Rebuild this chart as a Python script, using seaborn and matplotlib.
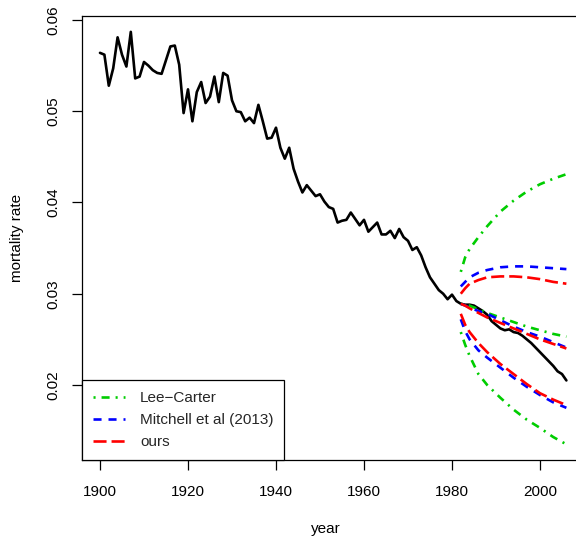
import matplotlib
matplotlib.use("Agg")
import matplotlib.pyplot as plt
import numpy as np
import pandas as pd
import seaborn as sns

# Observed mortality rate, 1900-2006
years = list(range(1900, 2007))
rates = [
    0.0564, 0.0562, 0.0528, 0.0547, 0.0581, 0.0562, 0.0549, 0.0587, 0.0536, 0.0538,
    0.0554, 0.0550, 0.0545, 0.0542, 0.0541, 0.0556, 0.0571, 0.0572, 0.0551, 0.0498,
    0.0524, 0.0489, 0.0521, 0.0532, 0.0509, 0.0516, 0.0538, 0.0510, 0.0542, 0.0539,
    0.0512, 0.0500, 0.0499, 0.0489, 0.0493, 0.0487, 0.0507, 0.0489, 0.0470, 0.0471,
    0.0482, 0.0460, 0.0448, 0.0460, 0.0437, 0.0423, 0.0411, 0.0419, 0.0413, 0.0407,
    0.0409, 0.0401, 0.0395, 0.0393, 0.0378, 0.0380, 0.0381, 0.0389, 0.0382, 0.0375,
    0.0381, 0.0368, 0.0373, 0.0378, 0.0365, 0.0365, 0.0369, 0.0361, 0.0371, 0.0362,
    0.0358, 0.0348, 0.0351, 0.0342, 0.0329, 0.0318, 0.0311, 0.0304, 0.0300, 0.0294,
    0.0299, 0.0292, 0.0289, 0.0288, 0.0288, 0.0287, 0.0284, 0.0281, 0.0277, 0.0270,
    0.0266, 0.0262, 0.0260, 0.0261, 0.0258, 0.0257, 0.0254, 0.0250, 0.0246, 0.0241,
    0.0236, 0.0231, 0.0226, 0.0221, 0.0215, 0.0212, 0.0205,
]

# Forecasts from 1982: lower bound, point forecast, upper bound
fyears = [1982, 1983, 1984, 1986, 1988, 1991, 1994, 1997, 2000, 2003, 2006]

lc_lower = [0.0258, 0.0244, 0.0232, 0.0212, 0.0200, 0.0186, 0.0173, 0.0162, 0.0153, 0.0143, 0.0135]
lc_mid   = [0.0289, 0.0288, 0.0287, 0.0283, 0.0279, 0.0274, 0.0269, 0.0264, 0.0260, 0.0256, 0.0253]
lc_upper = [0.0324, 0.0340, 0.0349, 0.0362, 0.0374, 0.0390, 0.0402, 0.0412, 0.0420, 0.0426, 0.0431]

mi_lower = [0.0272, 0.0259, 0.0250, 0.0238, 0.0230, 0.0219, 0.0208, 0.0198, 0.0189, 0.0181, 0.0175]
mi_mid   = [0.0289, 0.0287, 0.0285, 0.0281, 0.0278, 0.0271, 0.0264, 0.0258, 0.0253, 0.0247, 0.0241]
mi_upper = [0.0308, 0.0313, 0.0318, 0.0323, 0.0326, 0.0329, 0.0330, 0.0330, 0.0329, 0.0328, 0.0327]

our_lower = [0.0278, 0.0266, 0.0258, 0.0246, 0.0236, 0.0223, 0.0212, 0.0201, 0.0191, 0.0184, 0.0178]
our_mid   = [0.0289, 0.0287, 0.0284, 0.0279, 0.0274, 0.0268, 0.0262, 0.0256, 0.0250, 0.0245, 0.0240]
our_upper = [0.0300, 0.0306, 0.0311, 0.0315, 0.0318, 0.0319, 0.0319, 0.0318, 0.0316, 0.0313, 0.0311]

methods = ["Lee\u2212Carter", "Mitchell et al (2013)", "ours"]
colors = {"Lee\u2212Carter": "#00CD00", "Mitchell et al (2013)": "#0000FF", "ours": "#FF0000"}
dash_map = {
    "Lee\u2212Carter": (1.5, 4.3, 5.8, 4.3),
    "Mitchell et al (2013)": (5.8, 5.0),
    "ours": (9.4, 3.6),
}

bands = {
    "Lee\u2212Carter": {"lower": lc_lower, "mid": lc_mid, "upper": lc_upper},
    "Mitchell et al (2013)": {"lower": mi_lower, "mid": mi_mid, "upper": mi_upper},
    "ours": {"lower": our_lower, "mid": our_mid, "upper": our_upper},
}
rows = []
for method, parts in bands.items():
    for bound, vals in parts.items():
        for yr, v in zip(fyears, vals):
            rows.append({"year": yr, "rate": v, "method": method, "bound": bound})
fc = pd.DataFrame(rows)
obs = pd.DataFrame({"year": years, "rate": rates})

sns.set_theme(style="white")
plt.rcParams["font.family"] = ["Liberation Sans", "DejaVu Sans"]
plt.rcParams["lines.scale_dashes"] = False

fig = plt.figure(figsize=(5.76, 5.42), dpi=100)
ax = fig.add_axes([82 / 576, 82 / 542, 503 / 576, 444 / 542])

sns.lineplot(data=obs, x="year", y="rate", color="black", linewidth=1.9, ax=ax)
sns.lineplot(
    data=fc, x="year", y="rate", hue="method", style="method", units="bound",
    estimator=None, hue_order=methods, style_order=methods,
    palette=colors, dashes=dash_map, linewidth=1.9, ax=ax,
)

ax.set_xlim(1895.91, 2010.23)
ax.set_ylim(0.011781, 0.060438)

ax.set_xticks([1900, 1920, 1940, 1960, 1980, 2000])
yt = [0.02, 0.03, 0.04, 0.05, 0.06]
ax.set_yticks(yt, labels=[f"{v:.2f}" for v in yt], rotation=90, va="center")
ax.tick_params(axis="both", which="major", bottom=True, left=True, direction="out",
               length=7, width=0.9, color="black", labelsize=11, labelcolor="black")
ax.tick_params(axis="x", pad=11)
ax.tick_params(axis="y", pad=8.5)

for side in ["left", "right", "top", "bottom"]:
    ax.spines[side].set_color("black")
    ax.spines[side].set_linewidth(0.9)

ax.set_xlabel("year", fontsize=11, color="black")
ax.set_ylabel("mortality rate", fontsize=11, color="black")
ax.xaxis.label.set_va("center")
ax.yaxis.label.set_va("center")
ax.xaxis.set_label_coords((326 - 82) / 503, -(529 - 460) / 444)
ax.yaxis.set_label_coords((17 - 82) / 503, 0.5)

old = ax.get_legend()
handles = old.legend_handles
labels = [t.get_text() for t in old.get_texts()]
old.remove()
leg = ax.legend(
    handles, labels, loc="lower left", bbox_to_anchor=(0, 0), borderaxespad=0,
    frameon=True, fancybox=False, edgecolor="black", framealpha=1, fontsize=11,
    handlelength=2.1, handletextpad=1.0, borderpad=0.7, labelspacing=0.53,
)
leg.get_frame().set_linewidth(0.9)
for h in leg.legend_handles:
    h.set_linewidth(1.9)

fig.savefig("out.png", dpi=100)
